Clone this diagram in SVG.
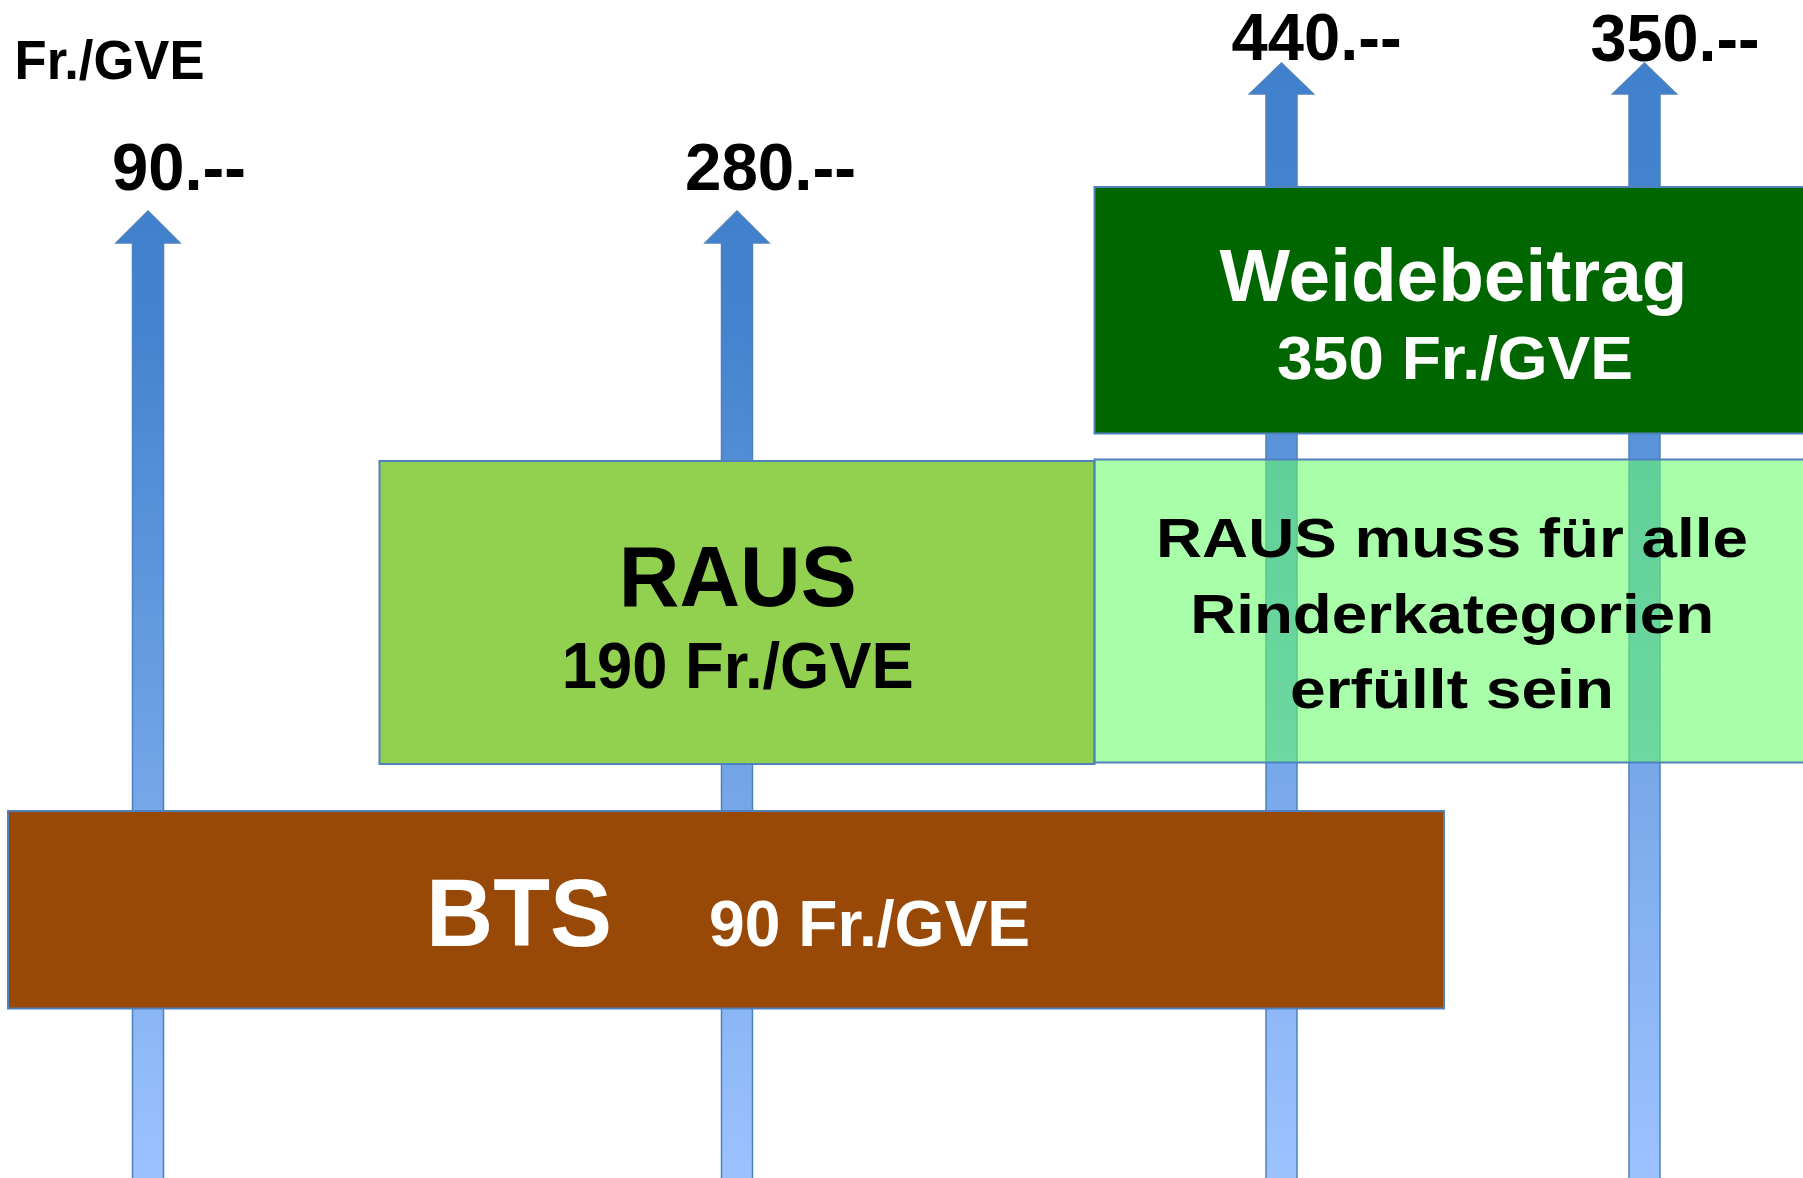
<svg xmlns="http://www.w3.org/2000/svg" width="1803" height="1178" viewBox="0 0 1803 1178">
<style>
text{font-family:"Liberation Sans",Arial,sans-serif;font-weight:bold;text-anchor:middle}
.k{fill:#000}
.w{fill:#fff}
.box{stroke:#4F81BD;stroke-width:2}
.arr{fill:url(#ag);stroke:#4F81BD;stroke-width:1.5}
</style>
<defs>
<linearGradient id="ag" x1="0" y1="0" x2="0" y2="1">
<stop offset="0" stop-color="#4080CC"/>
<stop offset="0.12" stop-color="#4483CE"/>
<stop offset="1" stop-color="#9DC3FF"/>
</linearGradient>
</defs>
<rect width="1803" height="1178" fill="#fff"/>
<g id="connectors">
<polygon class="arr" points="148,211 180,243 163.5,243 163.5,1185 132.5,1185 132.5,243 116,243"/>
<polygon class="arr" points="737,211 769,243 752.5,243 752.5,1185 721.5,1185 721.5,243 705,243"/>
<polygon class="arr" points="1281.5,63 1313.5,94 1297,94 1297,1185 1266,1185 1266,94 1249.5,94"/>
<polygon class="arr" points="1644.5,63 1676.5,94 1660,94 1660,1185 1629,1185 1629,94 1612.5,94"/>
</g>
<g id="axis-label"><text class="k" x="109.5" y="79" font-size="55" textLength="190" lengthAdjust="spacingAndGlyphs">Fr./GVE</text></g>
<g id="value-90"><text class="k" x="179" y="190" font-size="66" textLength="134" lengthAdjust="spacingAndGlyphs">90.--</text></g>
<g id="value-280"><text class="k" x="770.5" y="190" font-size="66" textLength="171" lengthAdjust="spacingAndGlyphs">280.--</text></g>
<g id="value-440"><text class="k" x="1316.6" y="60" font-size="66" textLength="170" lengthAdjust="spacingAndGlyphs">440.--</text></g>
<g id="value-350"><text class="k" x="1675" y="60.5" font-size="66" textLength="169" lengthAdjust="spacingAndGlyphs">350.--</text></g>
<g id="weidebeitrag">
<rect class="box" x="1094.5" y="187" width="712" height="246.5" fill="#006600"/>
<text class="w" x="1453.4" y="300.7" font-size="75" textLength="468" lengthAdjust="spacingAndGlyphs">Weidebeitrag</text>
<text class="w" x="1455" y="379.3" font-size="62" textLength="356" lengthAdjust="spacingAndGlyphs">350 Fr./GVE</text>
</g>
<g id="raus">
<rect class="box" x="379.5" y="461" width="715" height="303" fill="#92D050"/>
<text class="k" x="737.8" y="605.7" font-size="85" textLength="238" lengthAdjust="spacingAndGlyphs">RAUS</text>
<text class="k" x="737.8" y="687.7" font-size="64" textLength="352" lengthAdjust="spacingAndGlyphs">190 Fr./GVE</text>
</g>
<g id="raus-hinweis">
<rect class="box" x="1094.5" y="459.5" width="712" height="303" fill="#66FF66" fill-opacity="0.56"/>
<text class="k" x="1452" y="556.7" font-size="56" textLength="592" lengthAdjust="spacingAndGlyphs">RAUS muss für alle</text>
<text class="k" x="1452.2" y="633.3" font-size="56" textLength="524" lengthAdjust="spacingAndGlyphs">Rinderkategorien</text>
<text class="k" x="1452" y="708.3" font-size="56" textLength="324" lengthAdjust="spacingAndGlyphs">erfüllt sein</text>
</g>
<g id="bts">
<rect class="box" x="8" y="811" width="1436" height="197.5" fill="#984807"/>
<text class="w" x="519" y="945.7" font-size="96" textLength="186" lengthAdjust="spacingAndGlyphs">BTS</text>
<text class="w" x="869.6" y="945.7" font-size="64" textLength="321" lengthAdjust="spacingAndGlyphs">90 Fr./GVE</text>
</g>
</svg>
